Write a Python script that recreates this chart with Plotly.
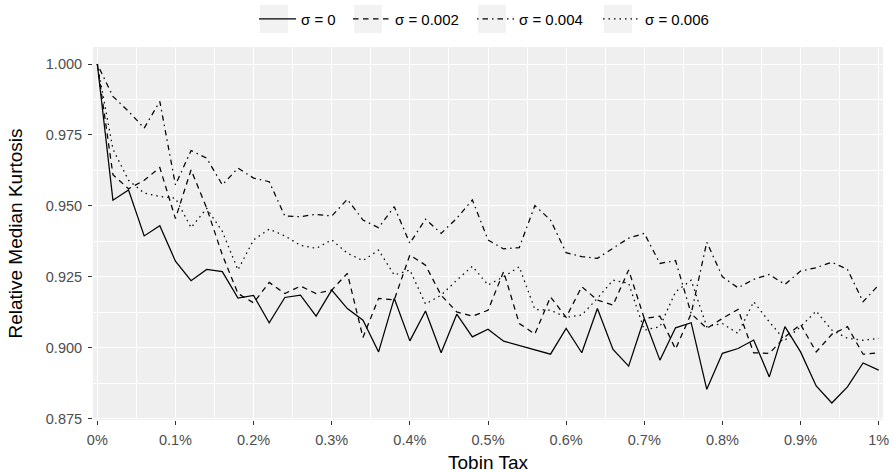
import plotly.graph_objects as go

tax = [round(i * 0.02, 2) for i in range(51)]

sigma_0 = [1.000, 0.952, 0.9556, 0.9394, 0.943, 0.9305, 0.9236, 0.9276, 0.9268, 0.9175,
           0.9184, 0.9088, 0.9177, 0.9185, 0.9111, 0.9203, 0.9138, 0.9097, 0.8985, 0.9174,
           0.9024, 0.9129, 0.8982, 0.9118, 0.9038, 0.9065, 0.9023, 0.9007, 0.8992, 0.8977,
           0.9068, 0.8982, 0.9138, 0.8994, 0.8935, 0.9103, 0.8956, 0.907, 0.9088, 0.8853,
           0.898, 0.8997, 0.9027, 0.8897, 0.9074, 0.8985, 0.8865, 0.8805, 0.8862, 0.8946,
           0.8921]

sigma_002 = [1.000, 0.961, 0.956, 0.959, 0.9635, 0.9455, 0.9627, 0.9492, 0.9327, 0.9191,
             0.9158, 0.923, 0.9191, 0.9217, 0.9191, 0.9203, 0.9262, 0.9036, 0.9174, 0.9168,
             0.9327, 0.9291, 0.9185, 0.9126, 0.9111, 0.9132, 0.9268, 0.9085, 0.9048, 0.9179,
             0.9107, 0.9215, 0.9168, 0.915, 0.9274, 0.9103, 0.9111, 0.8995, 0.912, 0.9068,
             0.9103, 0.9135, 0.8982, 0.898, 0.9038, 0.9082, 0.8985, 0.9047, 0.9074, 0.8977,
             0.8982]

sigma_004 = [1.000, 0.9886, 0.9833, 0.9774, 0.9868, 0.9574, 0.9695, 0.9668, 0.9574, 0.9633,
             0.9598, 0.9585, 0.9464, 0.9462, 0.947, 0.9464, 0.9523, 0.945, 0.9423, 0.9497,
             0.9368, 0.9453, 0.9403, 0.9456, 0.9521, 0.938, 0.9348, 0.9353, 0.9501, 0.945,
             0.9335, 0.9321, 0.9315, 0.935, 0.9386, 0.9403, 0.9297, 0.9307, 0.912, 0.9372,
             0.925, 0.9211, 0.9241, 0.9258, 0.9223, 0.927, 0.9282, 0.9301, 0.9276, 0.9162,
             0.9221]

sigma_006 = [1.000, 0.970, 0.959, 0.9545, 0.9533, 0.9527, 0.9423, 0.9491, 0.941, 0.9274,
             0.938, 0.9418, 0.9394, 0.9361, 0.935, 0.938, 0.9333, 0.9307, 0.9344, 0.9256,
             0.9274, 0.9154, 0.9185, 0.9238, 0.9287, 0.9221, 0.925, 0.9285, 0.9135, 0.9132,
             0.9107, 0.9115, 0.9174, 0.9238, 0.9227, 0.9062, 0.9074, 0.9197, 0.9238, 0.9074,
             0.9085, 0.905, 0.9162, 0.9091, 0.9026, 0.9074, 0.9129, 0.9062, 0.9033, 0.9026,
             0.9033]

series_names = ["σ = 0", "σ = 0.002", "σ = 0.004", "σ = 0.006"]
series_values = [sigma_0, sigma_002, sigma_004, sigma_006]
dash_styles = ["solid", "5.5px,4.5px", "1.5px,4px,5.5px,4px", "1.5px,4px"]

x_tick_vals = [0, 0.1, 0.2, 0.3, 0.4, 0.5, 0.6, 0.7, 0.8, 0.9, 1.0]
x_tick_text = ["0%", "0.1%", "0.2%", "0.3%", "0.4%", "0.5%", "0.6%", "0.7%", "0.8%", "0.9%", "1%"]
y_tick_vals = [0.875, 0.900, 0.925, 0.950, 0.975, 1.000]
y_tick_text = ["0.875", "0.900", "0.925", "0.950", "0.975", "1.000"]

FONT = "Liberation Sans, Arial, sans-serif"
W, H = 894, 473
ML, MR, MT, MB = 93, 11, 47, 53
PW, PH = W - ML - MR, H - MT - MB

# legend item left offsets (px) and key boxes
legend_left_px = [254, 348, 472, 598]
legend_ids = ["legend", "legend2", "legend3", "legend4"]

fig = go.Figure()
for name, vals, dash, lid in zip(series_names, series_values, dash_styles, legend_ids):
    fig.add_trace(go.Scatter(x=tax, y=vals, mode="lines", name=name, legend=lid,
                             line=dict(color="#000000", width=1.25, dash=dash)))

layout_legends = {}
for lid, lx in zip(legend_ids, legend_left_px):
    layout_legends[lid] = dict(
        orientation="h", x=lx / W, xanchor="left", xref="container",
        y=1 - 19 / H, yref="container", yanchor="middle",
        itemwidth=37, bgcolor="rgba(0,0,0,0)", borderwidth=0,
        font=dict(size=15, color="#000000", family=FONT),
    )

shapes = []
for lx in legend_left_px:
    x0 = lx + 6
    x1 = lx + 34
    shapes.append(dict(type="rect", xref="paper", yref="paper",
                       x0=(x0 - ML) / PW, x1=(x1 - ML) / PW,
                       y0=(H - MB - 33) / PH, y1=(H - MB - 5) / PH,
                       fillcolor="#F2F2F2", line=dict(width=0), layer="below"))

fig.update_layout(
    width=W, height=H,
    margin=dict(l=ML, r=MR, t=MT, b=MB),
    paper_bgcolor="white",
    plot_bgcolor="#EFEFEF",
    font=dict(family=FONT, size=14, color="#000000"),
    showlegend=True,
    shapes=shapes,
    **layout_legends,
)

fig.update_xaxes(
    range=[-0.0055, 1.0055], automargin=False,
    tickvals=x_tick_vals, ticktext=x_tick_text,
    showgrid=True, gridcolor="white", gridwidth=1.1,
    minor=dict(dtick=0.05, tick0=0.05, showgrid=True, gridcolor="white", gridwidth=0.5),
    zeroline=False, showline=False,
    ticks="outside", ticklen=4, tickcolor="#333333", tickwidth=1, ticklabelstandoff=3,
    tickfont=dict(size=14.5, color="#4D4D4D", family=FONT),
    title=dict(text="Tobin Tax", font=dict(size=19, color="#000000", family=FONT), standoff=10),
)
fig.update_yaxes(
    range=[0.8745, 1.006], automargin=False,
    tickvals=y_tick_vals, ticktext=y_tick_text,
    showgrid=True, gridcolor="white", gridwidth=1.1,
    minor=dict(dtick=0.0125, tick0=0.8875, showgrid=True, gridcolor="white", gridwidth=0.5),
    zeroline=False, showline=False,
    ticks="outside", ticklen=4, tickcolor="#333333", tickwidth=1, ticklabelstandoff=3,
    tickfont=dict(size=14.5, color="#4D4D4D", family=FONT),
    title=dict(text="Relative Median Kurtosis", font=dict(size=19, color="#000000", family=FONT), standoff=18),
)

fig.write_html("out.html",
               config={"displayModeBar": False},
               post_script="document.body.style.margin='0';document.body.style.overflow='hidden';")
